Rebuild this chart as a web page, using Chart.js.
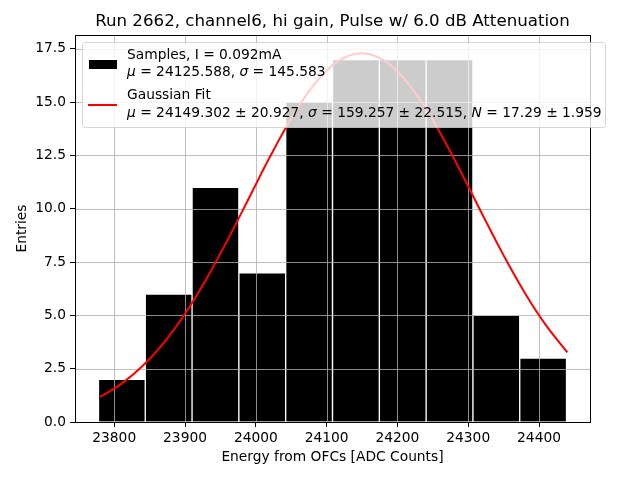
<!DOCTYPE html>
<html lang="en">
<head>
    <meta charset="UTF-8">
    <title>Run 2662 histogram</title>
    <script src="https://cdn.jsdelivr.net/npm/chart.js"></script>
    <style>
        body { margin: 0; background: #fff; }
    </style>
</head>
<body>
    <canvas id="hist" width="640" height="480"></canvas>

    <script>
        // histogram bins (centres) and counts
        const binCenters = [23810.8, 23876.9, 23943.0, 24009.1, 24075.2, 24141.4, 24207.5, 24273.6, 24339.7, 24405.8];
        const counts = [2, 6, 11, 7, 15, 17, 17, 17, 5, 3];

        // gaussian fit curve
        const fitX = [23780, 23810, 23840, 23870, 23900, 23930, 23960, 23990, 24020, 24050, 24080, 24110,
                      24140, 24170, 24200, 24230, 24260, 24290, 24320, 24350, 24380, 24410, 24440];
        const fitY = [1.175, 1.787, 2.623, 3.715, 5.078, 6.699, 8.531, 10.484, 12.436, 14.236, 15.728, 16.771,
                      17.261, 17.145, 16.436, 15.207, 13.579, 11.703, 9.735, 7.815, 6.055, 4.528, 3.268];

        const xTicks = [23800, 23900, 24000, 24100, 24200, 24300, 24400];
        const yTicks = [0, 2.5, 5, 7.5, 10, 12.5, 15, 17.5];

        const title = 'Run 2662, channel6, hi gain, Pulse w/ 6.0 dB Attenuation';
        const xLabel = 'Energy from OFCs [ADC Counts]';
        const yLabel = 'Entries';
        // legend lines: [text, italic]
        const sampleLines = [
            [['Samples, I = 0.092mA', false]],
            [['μ', true], [' = 24125.588, ', false], ['σ', true], [' = 145.583', false]]
        ];
        const fitLines = [
            [['Gaussian Fit', false]],
            [['μ', true], [' = 24149.302 ± 20.927, ', false], ['σ', true], [' = 159.257 ± 22.515, ', false],
             ['N', true], [' = 17.29 ± 1.959', false]]
        ];

        const FONT = 'DejaVu Sans';
        const FS = 13.8;

        function drawSegments(ctx, segs, x, y) {
            segs.forEach(([t, it]) => {
                ctx.font = (it ? 'italic ' : '') + FS + 'px "' + FONT + '"';
                ctx.fillText(t, x, y);
                x += ctx.measureText(t).width;
            });
        }

        const decor = {
            id: 'decor',
            beforeDraw(chart) {
                const c = chart.ctx;
                c.save();
                c.fillStyle = '#fff';
                c.fillRect(0, 0, chart.width, chart.height);
                c.restore();
            },
            afterDatasetDraw(chart, args) {
                if (args.index !== 0) return;
                // grid sits above the bars but below the fit line
                const c = chart.ctx, a = chart.chartArea;
                const xs = chart.scales.x, ys = chart.scales.y;
                c.save();
                c.strokeStyle = '#b0b0b0';
                c.lineWidth = 0.8;
                xTicks.forEach(v => {
                    const px = Math.round(xs.getPixelForValue(v)) + 0.5;
                    c.beginPath(); c.moveTo(px, a.top); c.lineTo(px, a.bottom); c.stroke();
                });
                yTicks.forEach(v => {
                    const py = Math.round(ys.getPixelForValue(v)) + 0.5;
                    c.beginPath(); c.moveTo(a.left, py); c.lineTo(a.right, py); c.stroke();
                });
                c.restore();
            },
            afterDraw(chart) {
                const c = chart.ctx, a = chart.chartArea;
                c.save();
                // axes frame
                c.strokeStyle = '#000';
                c.lineWidth = 1;
                c.strokeRect(Math.round(a.left) + 0.5, Math.round(a.top) + 0.5,
                             Math.round(a.right - a.left), Math.round(a.bottom - a.top));

                c.fillStyle = '#000';
                c.textAlign = 'center';
                c.textBaseline = 'middle';
                c.font = '16.67px "' + FONT + '"';
                c.fillText(title, (a.left + a.right) / 2, 22);
                c.font = FS + 'px "' + FONT + '"';
                c.fillText(xLabel, (a.left + a.right) / 2, 457);
                c.translate(22, (a.top + a.bottom) / 2);
                c.rotate(-Math.PI / 2);
                c.fillText(yLabel, 0, 0);
                c.setTransform(1, 0, 0, 1, 0, 0);

                // legend box
                const bx = 82.5, by = 42.5, bw = 523, bh = 85;
                c.beginPath();
                c.roundRect(bx, by, bw, bh, 3);
                c.fillStyle = 'rgba(255,255,255,0.8)';
                c.fill();
                c.strokeStyle = 'rgba(204,204,204,0.8)';
                c.lineWidth = 1;
                c.stroke();

                c.fillStyle = '#000';
                c.fillRect(89, 60, 28, 9);
                c.strokeStyle = 'red';
                c.lineWidth = 2;
                c.beginPath(); c.moveTo(88, 105); c.lineTo(117, 105); c.stroke();

                c.textAlign = 'left';
                c.fillStyle = '#000';
                drawSegments(c, sampleLines[0], 127, 55);
                drawSegments(c, sampleLines[1], 127, 72);
                drawSegments(c, fitLines[0], 127, 95);
                drawSegments(c, fitLines[1], 127, 113);
                c.restore();
            }
        };

        const tickFont = { family: FONT, size: FS };

        new Chart(document.getElementById('hist'), {
            type: 'bar',
            data: {
                datasets: [{
                    label: 'Samples',
                    data: binCenters.map((x, i) => ({ x: x, y: counts[i] })),
                    backgroundColor: '#000',
                    borderColor: '#fff',
                    borderWidth: 1,
                    barPercentage: 1,
                    categoryPercentage: 1,
                    order: 2
                }, {
                    type: 'line',
                    label: 'Gaussian Fit',
                    data: fitX.map((x, i) => ({ x: x, y: fitY[i] })),
                    borderColor: 'red',
                    borderWidth: 2,
                    pointRadius: 0,
                    tension: 0.4,
                    fill: false,
                    order: 1
                }]
            },
            options: {
                responsive: false,
                animation: false,
                devicePixelRatio: 1,
                layout: { padding: { top: 35, right: 50, left: 0, bottom: 0 } },
                plugins: { legend: { display: false }, tooltip: { enabled: false } },
                scales: {
                    x: {
                        type: 'linear',
                        min: 23744.6,
                        max: 24472,
                        offset: false,
                        grid: { offset: false, drawOnChartArea: false, color: '#000', tickLength: 5 },
                        border: { color: '#000' },
                        ticks: { color: '#000', font: tickFont, padding: 3, maxRotation: 0, autoSkip: false,
                                 callback: v => String(v) },
                        afterBuildTicks: s => { s.ticks = xTicks.map(v => ({ value: v })); },
                        afterFit: s => { s.height = 58; }
                    },
                    y: {
                        min: 0,
                        max: 18.15,
                        grid: { drawOnChartArea: false, color: '#000', tickLength: 5 },
                        border: { color: '#000' },
                        ticks: { color: '#000', font: tickFont, padding: 4, callback: v => v.toFixed(1) },
                        afterBuildTicks: s => { s.ticks = yTicks.map(v => ({ value: v })); },
                        afterFit: s => { s.width = 75; }
                    }
                }
            },
            plugins: [decor]
        });
    </script>
</body>
</html>
